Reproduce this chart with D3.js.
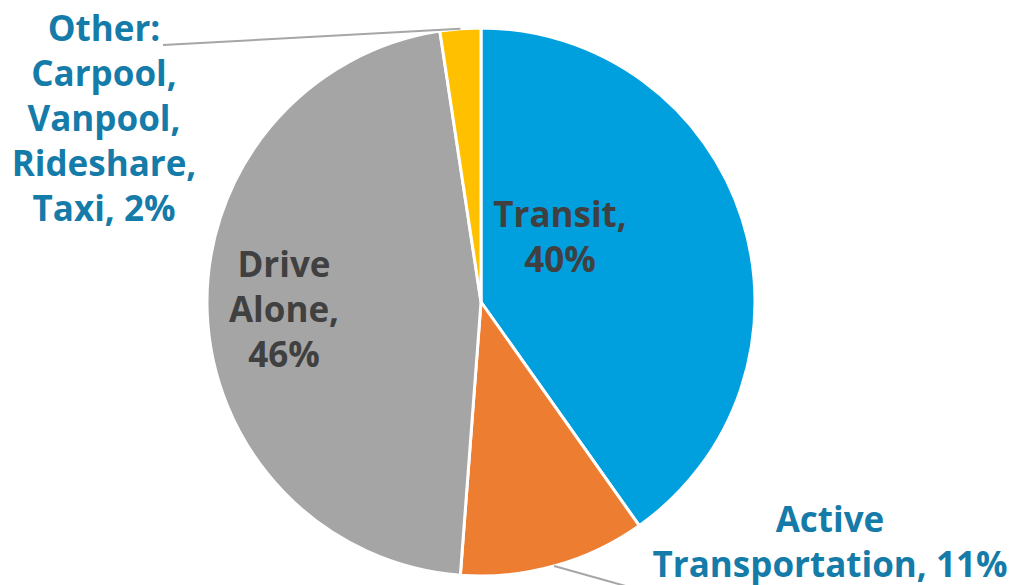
<!DOCTYPE html>
<html>
<head>
<meta charset="utf-8">
<script src="https://cdn.jsdelivr.net/npm/d3@7"></script>
<style>
  html, body { margin: 0; padding: 0; background: #fff; }
  svg { display: block; }
  text { font-family: "Open Sans", "DejaVu Sans", sans-serif; font-weight: 700; }
</style>
</head>
<body>
<svg id="chart" width="1009" height="585"></svg>
<script>
// Commute mode share
const categories = ["Transit", "Active Transportation", "Drive Alone", "Other: Carpool, Vanpool, Rideshare, Taxi"];
const shares = [40.2, 11.0, 46.4, 2.4];
const labelLines = [
  ["Transit,", "40%"],
  ["Active", "Transportation, 11%"],
  ["Drive", "Alone,", "46%"],
  ["Other:", "Carpool,", "Vanpool,", "Rideshare,", "Taxi, 2%"]
];
const colors = ["#009FDE", "#ED7D31", "#A5A5A5", "#FFC000"];

const W = 1009, H = 585;
const cx = 481, cy = 302, R = 274;
const lineGap = 45;

// label placement: centre x, first baseline y, colour, leader line
const labelLayout = [
  { x: 560, y: 227, fill: "#404040" },
  { x: 830, y: 532, fill: "#157BA9", leaderTo: [640, 590] },
  { x: 284, y: 277, fill: "#404040" },
  { x: 104, y: 41, fill: "#157BA9", leaderTo: [163, 45] }
];

const svg = d3.select("#chart");
const g = svg.append("g").attr("transform", `translate(${cx},${cy})`);

const pie = d3.pie().sort(null).value(d => d)
  .startAngle(0).endAngle(2 * Math.PI);
const arcs = pie(shares);
const arc = d3.arc().innerRadius(0).outerRadius(R);

g.selectAll("path.slice")
  .data(arcs)
  .join("path")
  .attr("class", "slice")
  .attr("d", arc)
  .attr("fill", (d, i) => colors[i])
  .attr("stroke", "#fff")
  .attr("stroke-width", 3)
  .attr("stroke-linejoin", "round");

// leader lines from slice edge midpoints
arcs.forEach((a, i) => {
  const L = labelLayout[i];
  if (!L.leaderTo) return;
  const mid = (a.startAngle + a.endAngle) / 2;
  const sx = cx + R * Math.sin(mid), sy = cy - R * Math.cos(mid);
  svg.append("line")
    .attr("x1", sx).attr("y1", sy)
    .attr("x2", L.leaderTo[0]).attr("y2", L.leaderTo[1])
    .attr("stroke", "#A6A6A6").attr("stroke-width", 2);
});

// labels
labelLines.forEach((lines, i) => {
  const L = labelLayout[i];
  const t = svg.append("text")
    .attr("text-anchor", "middle")
    .attr("fill", L.fill)
    .attr("font-size", 35);
  lines.forEach((ln, k) => {
    t.append("tspan").attr("x", L.x).attr("y", L.y + k * lineGap).text(ln);
  });
});
</script>
</body>
</html>
